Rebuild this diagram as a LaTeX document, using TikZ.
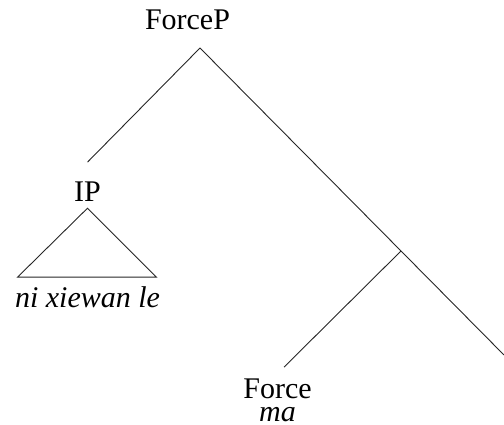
\documentclass[tikz,border=0pt]{standalone}
\usepackage{fontspec}
\setmainfont{Liberation Serif}
\usetikzlibrary{positioning}

\begin{document}
\begin{tikzpicture}[x=1pt,y=1pt,
			every node/.style={
				inner sep=0pt,
				anchor=base,
				font=\fontsize{30}{30}\selectfont},
			word/.style={font=\fontsize{30}{30}\selectfont\itshape},
			branch/.style={black!85,line width=0.9pt}]
			
			\useasboundingbox (0,0) rectangle (504,425);
			
			% joints of the tree
			\coordinate (top) at (200,377);
			\coordinate (bar) at (401,174);
			\coordinate (comp) at (504,70);
			
			\node (forcep) at (187.5,395) {ForceP};
			
			\node (ip) at (87.5,223) {IP};
			
			\node (ipwords) [word] at (87.5,117) {ni xiewan le};
			
			\node (force) at (277.5,26) {Force};
			
			\node (ma) [word,below=8pt of force] {ma};
			
			\draw[branch] (top)--([yshift=20pt]ip.north);
			\draw[branch] (top)--(comp);
			
			\draw[branch] (bar)--([xshift=6.5pt,yshift=12pt]force.north);
			
			% roof over the IP
			\draw[branch] ([yshift=-6pt]ip.south)--++(-70,-69)--++(139,0)--cycle;
			
		\end{tikzpicture}
\end{document}
